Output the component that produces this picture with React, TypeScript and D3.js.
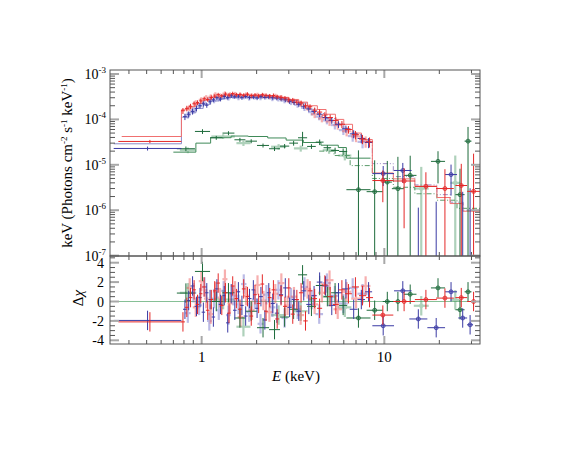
import React from 'react';
import * as d3 from 'd3';

// ---------------- data ----------------
// Dense bins (bin centres in keV); bin edges are geometric mid-points.
const redE = [0.79, 0.83, 0.87, 0.91, 0.95, 0.99, 1.03, 1.08, 1.13, 1.18, 1.23, 1.29, 1.35, 1.41, 1.48, 1.55, 1.62, 1.70, 1.78, 1.87, 1.96, 2.05, 2.15, 2.25, 2.36, 2.47, 2.59, 2.72, 2.86, 3.00, 3.15, 3.32, 3.50, 3.70, 3.92, 4.15, 4.42, 4.72, 5.05, 5.42, 5.85, 6.35, 6.95, 7.6, 8.3];
const redFlux = [1.55e-4, 1.75e-4, 1.95e-4, 2.2e-4, 2.35e-4, 2.55e-4, 2.85e-4, 2.75e-4, 3.05e-4, 3.25e-4, 3.5e-4, 3.3e-4, 3.6e-4, 3.45e-4, 3.7e-4, 3.5e-4, 3.55e-4, 3.4e-4, 3.6e-4, 3.35e-4, 3.45e-4, 3.3e-4, 3.5e-4, 3.4e-4, 3.3e-4, 3.35e-4, 3.15e-4, 3.05e-4, 2.95e-4, 2.7e-4, 2.65e-4, 2.4e-4, 2.3e-4, 2.0e-4, 1.9e-4, 1.6e-4, 1.45e-4, 1.25e-4, 1.1e-4, 9.5e-5, 7.8e-5, 6.0e-5, 4.6e-5, 3.7e-5, 3.2e-5];
const redRelErr = [0.15, 0.14, 0.13, 0.13, 0.12, 0.12, 0.11, 0.11, 0.11, 0.10, 0.10, 0.10, 0.10, 0.10, 0.10, 0.10, 0.10, 0.10, 0.10, 0.10, 0.10, 0.10, 0.10, 0.10, 0.10, 0.11, 0.11, 0.11, 0.11, 0.12, 0.12, 0.12, 0.13, 0.13, 0.13, 0.14, 0.14, 0.15, 0.16, 0.17, 0.18, 0.19, 0.21, 0.23, 0.25];
const redResid = [-2.1, -0.6, 0.4, 1.2, -0.3, 0.8, 1.5, -0.9, 0.2, 1.1, 1.9, -0.4, 0.9, -1.2, 1.6, 0.3, -0.8, 1.3, 0.5, -1.5, 0.7, -0.2, 1.8, -1.0, 0.4, 1.2, -1.8, 0.6, -0.5, 1.4, -1.3, 0.2, 0.9, -2.0, 1.1, 0.3, -0.7, 1.7, 0.5, -0.3, 1.2, 0.8, 1.5, 0.6, 0.4];

const redLightE = [0.86, 0.93, 1.0, 1.06, 1.12, 1.19, 1.26, 1.34, 1.43, 1.52, 1.63, 1.75, 1.88, 2.02, 2.18, 2.35, 2.53, 2.73, 2.95, 3.2, 3.48, 3.8, 4.15, 4.55, 5.0, 5.55, 6.2, 7.0, 7.9];
const redLightFlux = [1.8e-4, 2.3e-4, 2.7e-4, 3.0e-4, 3.15e-4, 3.5e-4, 3.3e-4, 3.7e-4, 3.5e-4, 3.6e-4, 3.4e-4, 3.5e-4, 3.3e-4, 3.45e-4, 3.35e-4, 3.2e-4, 3.25e-4, 3.0e-4, 2.75e-4, 2.5e-4, 2.2e-4, 1.85e-4, 1.3e-4, 1.05e-4, 9.0e-5, 7.5e-5, 5.5e-5, 4.2e-5, 3.3e-5];
const redLightRelErr = [0.16, 0.15, 0.14, 0.14, 0.13, 0.13, 0.13, 0.12, 0.13, 0.12, 0.13, 0.12, 0.13, 0.12, 0.13, 0.13, 0.13, 0.14, 0.14, 0.15, 0.15, 0.16, 0.18, 0.18, 0.2, 0.21, 0.23, 0.25, 0.28];
const redLightResid = [1.4, -0.6, 2.1, 0.3, -1.3, 1.0, 0.4, 2.3, -0.2, 1.1, -1.6, 0.6, -0.9, 1.7, 0.1, -1.1, 0.8, 1.9, -0.4, 0.5, -1.4, 1.3, -0.3, 0.9, 2.2, -0.8, 1.0, 0.3, 1.6];

const blueE = [0.81, 0.85, 0.89, 0.94, 0.98, 1.02, 1.07, 1.11, 1.16, 1.21, 1.27, 1.33, 1.39, 1.45, 1.52, 1.59, 1.66, 1.74, 1.83, 1.92, 2.01, 2.11, 2.22, 2.33, 2.45, 2.58, 2.72, 2.87, 3.03, 3.2, 3.4, 3.62, 3.86, 4.12, 4.42, 4.76, 5.15, 5.6, 6.15, 6.8, 7.5, 8.2];
const blueFlux = [1.15e-4, 1.3e-4, 1.5e-4, 1.75e-4, 2.0e-4, 2.2e-4, 2.05e-4, 2.45e-4, 2.7e-4, 3.0e-4, 2.8e-4, 3.2e-4, 3.05e-4, 3.3e-4, 3.15e-4, 3.25e-4, 3.0e-4, 3.2e-4, 3.05e-4, 3.1e-4, 2.95e-4, 3.2e-4, 3.05e-4, 3.1e-4, 3.0e-4, 2.95e-4, 2.8e-4, 2.7e-4, 2.5e-4, 2.35e-4, 2.15e-4, 1.95e-4, 1.7e-4, 1.5e-4, 1.3e-4, 1.1e-4, 9.5e-5, 7.8e-5, 6.2e-5, 4.8e-5, 3.8e-5, 3.1e-5];
const blueRelErr = [0.16, 0.15, 0.15, 0.14, 0.13, 0.13, 0.12, 0.12, 0.11, 0.11, 0.11, 0.11, 0.10, 0.10, 0.10, 0.10, 0.10, 0.10, 0.10, 0.10, 0.10, 0.10, 0.10, 0.10, 0.10, 0.11, 0.11, 0.11, 0.12, 0.12, 0.12, 0.13, 0.13, 0.14, 0.14, 0.15, 0.16, 0.17, 0.18, 0.2, 0.22, 0.25];
const blueResid = [-0.8, 0.1, 1.6, -0.5, 0.4, -1.1, 0.9, 0.2, -1.6, 1.3, -0.3, 0.6, -2.2, 0.8, -0.9, 1.0, -0.4, -1.5, 0.3, 1.2, -0.7, 0.5, -1.9, 0.9, -0.2, -1.2, 0.7, 1.4, -0.6, 0.2, -1.0, 1.1, -0.3, 0.6, 2.0, 1.6, -0.4, 0.9, 1.3, -0.8, 0.2, 1.0];

const blueLightE = [0.84, 0.9, 0.97, 1.04, 1.1, 1.17, 1.24, 1.32, 1.4, 1.49, 1.59, 1.7, 1.82, 1.95, 2.1, 2.26, 2.44, 2.63, 2.84, 3.08, 3.35, 3.65, 4.0, 4.4, 4.85, 5.35, 5.95, 6.7, 7.6];
const blueLightFlux = [1.25e-4, 1.6e-4, 2.0e-4, 2.3e-4, 2.7e-4, 2.6e-4, 2.9e-4, 3.1e-4, 2.95e-4, 3.2e-4, 3.0e-4, 3.15e-4, 2.95e-4, 3.1e-4, 3.0e-4, 3.15e-4, 2.9e-4, 2.85e-4, 2.6e-4, 2.4e-4, 2.1e-4, 1.8e-4, 1.45e-4, 1.15e-4, 9.5e-5, 7.5e-5, 5.8e-5, 4.3e-5, 3.2e-5];
const blueLightRelErr = [0.17, 0.16, 0.15, 0.14, 0.14, 0.13, 0.13, 0.13, 0.12, 0.12, 0.12, 0.12, 0.12, 0.12, 0.12, 0.12, 0.13, 0.13, 0.13, 0.14, 0.14, 0.15, 0.16, 0.17, 0.18, 0.2, 0.22, 0.25, 0.28];
const blueLightResid = [-1.2, 0.9, -0.4, 1.5, -2.0, 0.3, -0.9, 1.1, -1.4, 0.6, -0.3, 1.8, -1.1, 0.2, -2.3, 0.7, -0.6, 1.2, -1.7, 0.4, -0.8, 1.5, 0.2, -1.3, 1.9, 0.6, -0.2, 1.4, 0.8];

const greenE = [0.82, 1.03, 1.2, 1.41, 1.62, 1.86, 2.17, 2.52, 2.86, 3.18, 3.57, 4.0, 4.44, 4.87, 5.37, 5.95];
const greenFlux = [2.26e-5, 5.43e-5, 3.94e-5, 4.99e-5, 3.56e-5, 3.32e-5, 2.67e-5, 2.26e-5, 2.58e-5, 3.0e-5, 3.94e-5, 2.54e-5, 3.16e-5, 2.38e-5, 2.07e-5, 1.97e-5];
const greenRelErr = [0.12, 0.12, 0.1, 0.1, 0.1, 0.1, 0.1, 0.11, 0.11, 0.12, 0.35, 0.12, 0.14, 0.14, 0.15, 0.16];
const greenResid = [0.87, 3.1, 0.0, 0.9, -1.7, -1.0, -2.7, -2.9, -1.6, -0.8, 2.75, -0.5, 1.65, 0.5, 0.9, -0.4];

// Sparse bins (explicit edges in keV, absolute flux errors)
const redSparseLo = [0.35, 8.6, 11.2, 14.7, 19.2, 24.5, 28.4];
const redSparseHi = [0.775, 11.2, 14.7, 19.4, 24.0, 28.4, 33.4];
const redSparseFlux = [3.27e-5, 4.5e-6, 4.4e-6, 3.35e-6, 3.0e-6, 3.5e-6, 2.6e-6];
const redSparseErr = [2.6e-6, 3e-6, 4e-6, 3.5e-6, 5e-6, 7e-6, 1.5e-5];
const redSparseResid = [-2.1, -1.4, 0.0, 0.2, 0.35, 0.4, 0.0];

const blueSparseLo = [0.33, 8.6, 11.3, 13.7, 17.2, 21.5, 25.4, 28.4];
const blueSparseHi = [0.775, 11.3, 14.1, 17.2, 21.5, 25.0, 28.4, 30.6];
const blueSparseFlux = [2.29e-5, 6.4e-6, 7.5e-6, 4e-8, 4e-8, 6.1e-6, 4e-8, 4e-8];
const blueSparseErr = [2.3e-6, 3e-6, 3.5e-6, 1.1e-6, 1.5e-6, 4e-6, 2.5e-6, 3e-6];
const blueSparseResid = [-1.95, -2.5, 1.1, -1.8, -2.7, 1.0, -1.7, -2.4];

const greenSparseLo = [6.2, 8.0, 9.8, 11.0, 12.8, 18.0, 24.5, 27.5];
const greenSparseHi = [8.4, 9.8, 11.0, 12.8, 15.0, 21.5, 27.5, 30.0];
const greenSparseFlux = [2.83e-6, 2.56e-6, 4.16e-6, 2.98e-6, 5.85e-6, 1.19e-5, 2.2e-6, 3.32e-5];
const greenSparseErr = [1.8e-5, 1.0e-5, 8e-6, 1.2e-5, 1.0e-5, 8e-6, 6e-6, 3.5e-5];
const greenSparseResid = [-1.7, -0.9, 0.0, 0.0, 0.75, 1.4, -0.85, 1.0];

const greenLightLo = [0.76, 1.13, 1.55, 2.4, 3.2, 4.6, 5.6, 14.5, 23.0];
const greenLightHi = [0.93, 1.52, 1.85, 2.9, 3.8, 5.4, 6.6, 17.5, 26.0];
const greenLightFlux = [2.1e-5, 4.2e-5, 3.0e-5, 2.5e-5, 2.3e-5, 2.1e-5, 1.6e-5, 3.0e-6, 4.0e-6];
const greenLightErr = [3e-6, 5e-6, 4e-6, 3.5e-6, 3.5e-6, 3.5e-6, 3.5e-6, 6e-6, 1.2e-5];
const greenLightResid = [0.9, 0.2, -2.6, -1.4, -1.0, 0.5, -0.6, -0.44, 0.17];

// Model step functions (edges in keV, values per bin)
const redModelEdges = [0.365, 0.775, 0.85, 0.93, 1.02, 1.12, 1.25, 1.4, 1.6, 1.85, 2.1, 2.4, 2.7, 3.0, 3.4, 3.8, 4.3, 4.8, 5.4, 6.0, 6.7, 7.5, 8.6, 11.2, 14.7, 19.4, 22.9, 26.9, 33.4];
const redModelVals = [4.2e-5, 1.63e-4, 1.9e-4, 2.25e-4, 2.65e-4, 3.0e-4, 3.3e-4, 3.45e-4, 3.45e-4, 3.4e-4, 3.35e-4, 3.25e-4, 3.05e-4, 2.75e-4, 2.4e-4, 2.0e-4, 1.65e-4, 1.3e-4, 1.0e-4, 7.8e-5, 5.0e-5, 3.6e-5, 6.6e-6, 4.9e-6, 3.35e-6, 1.9e-6, 1.4e-6, 9.5e-7];
const blueModelEdges = [0.33, 0.775, 0.85, 0.93, 1.02, 1.12, 1.25, 1.4, 1.6, 1.85, 2.1, 2.4, 2.7, 3.0, 3.4, 3.8];
const blueModelVals = [2.9e-5, 1.12e-4, 1.4e-4, 1.75e-4, 2.15e-4, 2.55e-4, 2.85e-4, 3.05e-4, 3.1e-4, 3.05e-4, 3.05e-4, 3.0e-4, 2.85e-4, 2.6e-4, 2.3e-4];
const blueDashEdges = [3.8, 4.3, 4.8, 5.4, 6.0, 6.7, 7.5, 8.6, 11.2, 14.7, 19.4, 23.0, 27.0, 33.4];
const blueDashVals = [1.7e-4, 1.35e-4, 1.05e-4, 8.2e-5, 6.2e-5, 4.6e-5, 3.3e-5, 1.06e-5, 5.5e-6, 3.6e-6, 2.2e-6, 1.5e-6, 1.0e-6];
const greenModelEdges = [0.70, 0.93, 1.12, 1.45, 1.8, 2.3, 2.9, 3.6, 4.5, 5.6, 6.2, 8.4];
const greenModelVals = [1.9e-5, 3.0e-5, 3.95e-5, 4.3e-5, 4.2e-5, 3.9e-5, 3.5e-5, 3.1e-5, 2.7e-5, 2.4e-5, 1.4e-5];
const greenDashEdges = [4.4, 5.3, 6.5, 8.6, 11.2, 14.7, 19.4, 25.0, 33.4];
const greenDashVals = [2.0e-5, 1.6e-5, 9.6e-6, 5.0e-6, 3.2e-6, 2.3e-6, 1.66e-6, 1.1e-6];

// Axis ticks
const xMajor = [1, 10];
const xMajorLabels = ['1', '10'];
const yMajorExp = [-3, -4, -5, -6, -7];
const rMajor = [4, 2, 0, -2, -4];

// ---------------- layout ----------------
const W = 581, H = 449;
const X0 = 110, X1 = 480;
const YT0 = 70, YT1 = 256, YR1 = 344;

const x = d3.scaleLog().domain([0.315, 33.4]).range([X0, X1]);
const yTop = d3.scaleLog().domain([9.8e-8, 1.225e-3]).range([YT1, YT0]);
const yRes = d3.scaleLinear().domain([-4.38, 4.69]).range([YR1, YT1]);

const FONT = 'Liberation Serif, Times New Roman, DejaVu Serif, serif';
const AX = '#555';
const MAJ = '#a8a8a8';

type Pt = { lo: number; hi: number; f: number; err: number; r: number };

function edgesFromCenters(c: number[]): number[] {
  const e: number[] = [c[0] / Math.sqrt(c[1] / c[0])];
  for (let i = 1; i < c.length; i++) e.push(Math.sqrt(c[i - 1] * c[i]));
  const n = c.length;
  e.push(c[n - 1] * Math.sqrt(c[n - 1] / c[n - 2]));
  return e;
}
function dense(c: number[], f: number[], rel: number[], r: number[]): Pt[] {
  const e = edgesFromCenters(c);
  return c.map((_, i) => ({ lo: e[i], hi: e[i + 1], f: f[i], err: f[i] * rel[i], r: r[i] }));
}
function sparse(lo: number[], hi: number[], f: number[], err: number[], r: number[]): Pt[] {
  return lo.map((_, i) => ({ lo: lo[i], hi: hi[i], f: f[i], err: err[i], r: r[i] }));
}
function stepPath(edges: number[], vals: number[]): string {
  let d = '';
  vals.forEach((v, i) => {
    const yy = yTop(v);
    d += (i === 0 ? `M${x(edges[0])},${yy}` : `V${yy}`) + `H${x(edges[i + 1])}`;
  });
  return d;
}

const redPts = dense(redE, redFlux, redRelErr, redResid);
const redSp = sparse(redSparseLo, redSparseHi, redSparseFlux, redSparseErr, redSparseResid);
const redLightPts = dense(redLightE, redLightFlux, redLightRelErr, redLightResid);
const bluePts = dense(blueE, blueFlux, blueRelErr, blueResid);
const blueSp = sparse(blueSparseLo, blueSparseHi, blueSparseFlux, blueSparseErr, blueSparseResid);
const blueLightPts = dense(blueLightE, blueLightFlux, blueLightRelErr, blueLightResid);
const greenPts = dense(greenE, greenFlux, greenRelErr, greenResid);
const greenSp = sparse(greenSparseLo, greenSparseHi, greenSparseFlux, greenSparseErr, greenSparseResid);
const greenLightPts = sparse(greenLightLo, greenLightHi, greenLightFlux, greenLightErr, greenLightResid);

function Crosses({ pts, color, w, op, mark, res }: { pts: Pt[]; color: string; w: number; op: number; mark?: boolean; res?: boolean }) {
  return (
    <g stroke={color} strokeWidth={w} opacity={op} fill="none">
      {pts.map((p, i) => {
        const xc = x(Math.sqrt(p.lo * p.hi));
        let yc: number, yl: number, yu: number;
        if (res) {
          yc = yRes(p.r); yl = yRes(p.r - 1); yu = yRes(p.r + 1);
        } else {
          yc = yTop(Math.max(p.f, 1e-10));
          yl = yTop(Math.max(p.f - p.err, 1e-10));
          yu = yTop(p.f + p.err);
        }
        return (
          <g key={i}>
            <line x1={x(p.lo)} x2={x(p.hi)} y1={yc} y2={yc} />
            <line x1={xc} x2={xc} y1={yl} y2={yu} />
            {mark && p.lo > 5 ? <circle cx={xc} cy={yc} r={2} fill={color} fillOpacity={0.35} strokeWidth={0.8} /> : null}
          </g>
        );
      })}
    </g>
  );
}

function xMinorTicks() {
  const minors: number[] = [];
  [0.1, 1, 10].forEach((d) => { for (let k = 2; k <= 9; k++) { const v = k * d; if (v > 0.315 && v < 33.4) minors.push(v); } });
  return minors;
}

function Frame({ top, bottom, yMinor, yMajorPos }: { top: number; bottom: number; yMinor: number[]; yMajorPos: number[] }) {
  const minors = xMinorTicks();
  return (
    <g>
      {minors.map((v, i) => (
        <g key={'xm' + i} stroke={AX} strokeWidth={1}>
          <line x1={x(v)} x2={x(v)} y1={bottom} y2={bottom - 4} />
          <line x1={x(v)} x2={x(v)} y1={top} y2={top + 4} />
        </g>
      ))}
      {xMajor.map((v, i) => (
        <g key={'xM' + i} stroke={MAJ} strokeWidth={2}>
          <line x1={x(v)} x2={x(v)} y1={bottom} y2={bottom - 8} />
          <line x1={x(v)} x2={x(v)} y1={top} y2={top + 8} />
        </g>
      ))}
      {yMinor.map((yy, i) => (
        <g key={'ym' + i} stroke={AX} strokeWidth={1}>
          <line x1={X0} x2={X0 + 5} y1={yy} y2={yy} />
          <line x1={X1} x2={X1 - 5} y1={yy} y2={yy} />
        </g>
      ))}
      {yMajorPos.map((yy, i) => (
        <g key={'yM' + i} stroke={MAJ} strokeWidth={2}>
          <line x1={X0} x2={X0 + 9} y1={yy} y2={yy} />
          <line x1={X1} x2={X1 - 9} y1={yy} y2={yy} />
        </g>
      ))}
      <rect x={X0} y={top} width={X1 - X0} height={bottom - top} fill="none" stroke={AX} strokeWidth={1} />
    </g>
  );
}

export default function App() {
  const topMinor: number[] = [];
  [-8, -7, -6, -5, -4, -3].forEach((e) => {
    for (let k = 2; k <= 9; k++) {
      const v = k * Math.pow(10, e);
      if (v > 9.8e-8 && v < 1.225e-3) topMinor.push(yTop(v));
    }
  });
  const topMajor = yMajorExp.map((e) => yTop(Math.pow(10, e)));
  const resMinor: number[] = [];
  for (let v = -4; v <= 4.5; v += 0.5) if (v % 2 !== 0) resMinor.push(yRes(v));
  const resMajor = rMajor.map((v) => yRes(v));
  const ts = { fontFamily: FONT };

  return (
    <svg width={W} height={H} style={{ position: 'absolute', left: 0, top: 0, background: '#fff' }}>
      <defs>
        <clipPath id="ctop"><rect x={X0} y={YT0} width={X1 - X0} height={YT1 - YT0} /></clipPath>
        <clipPath id="cres"><rect x={X0} y={YT1} width={X1 - X0} height={YR1 - YT1} /></clipPath>
      </defs>

      {/* ---------- top panel ---------- */}
      <g clipPath="url(#ctop)">
        <path d={stepPath(greenModelEdges, greenModelVals)} stroke="#3f8a58" strokeWidth={1} fill="none" />
        <path d={stepPath(greenDashEdges, greenDashVals)} stroke="#5a9a6a" strokeWidth={1} fill="none" strokeDasharray="5,2,1,2" />
        <path d={stepPath(blueModelEdges, blueModelVals)} stroke="#8a8ac8" strokeWidth={1} fill="none" />
        <path d={stepPath(blueDashEdges, blueDashVals)} stroke="#9a8ac0" strokeWidth={1} fill="none" strokeDasharray="5,2,1,2,1,2" />
        <path d={stepPath(redModelEdges, redModelVals)} stroke="#f07070" strokeWidth={1} fill="none" />
        <Crosses pts={greenLightPts} color="#4e9a68" w={2.2} op={0.45} mark />
        <Crosses pts={blueLightPts} color="#6a6ac8" w={2.2} op={0.45} />
        <Crosses pts={redLightPts} color="#ee5050" w={2.2} op={0.45} />
        <Crosses pts={greenPts} color="#1d6b3b" w={1} op={1} />
        <Crosses pts={greenSp} color="#1d6b3b" w={1} op={1} mark />
        <Crosses pts={bluePts} color="#3a3aa4" w={1} op={1} />
        <Crosses pts={blueSp} color="#3a3aa4" w={1} op={1} mark />
        <Crosses pts={redPts} color="#e42828" w={1} op={1} />
        <Crosses pts={redSp} color="#e42828" w={1} op={1} mark />
      </g>

      {/* ---------- residual panel ---------- */}
      <g clipPath="url(#cres)">
        <line x1={X0} x2={X1} y1={yRes(0)} y2={yRes(0)} stroke="#86c096" strokeWidth={1} />
        <Crosses pts={greenLightPts} color="#4e9a68" w={2.2} op={0.45} res mark />
        <Crosses pts={blueLightPts} color="#6a6ac8" w={2.2} op={0.45} res />
        <Crosses pts={redLightPts} color="#ee5050" w={2.2} op={0.45} res />
        <Crosses pts={greenPts} color="#1d6b3b" w={1} op={1} res />
        <Crosses pts={greenSp} color="#1d6b3b" w={1} op={1} res mark />
        <Crosses pts={bluePts} color="#3a3aa4" w={1} op={1} res />
        <Crosses pts={blueSp} color="#3a3aa4" w={1} op={1} res mark />
        <Crosses pts={redPts} color="#e42828" w={1} op={1} res />
        <Crosses pts={redSp} color="#e42828" w={1} op={1} res mark />
      </g>

      <Frame top={YT0} bottom={YT1} yMinor={topMinor} yMajorPos={topMajor} />
      <Frame top={YT1} bottom={YR1} yMinor={resMinor} yMajorPos={resMajor} />

      {/* ---------- labels ---------- */}
      <g fontSize={14} fill="#000" style={ts}>
        {yMajorExp.map((e, i) => (
          <text key={'yl' + i} x={106} y={yTop(Math.pow(10, e)) + 5} textAnchor="end" style={ts}>
            10<tspan dy={-6} fontSize={9}>{String(e)}</tspan>
          </text>
        ))}
        {rMajor.map((v, i) => (
          <text key={'rl' + i} x={104} y={yRes(v) + 5} textAnchor="end" style={ts}>{String(v)}</text>
        ))}
        {xMajor.map((v, i) => (
          <text key={'xl' + i} x={x(v)} y={362} textAnchor="middle" fontSize={15} style={ts}>{xMajorLabels[i]}</text>
        ))}
        <text x={296} y={381} textAnchor="middle" fontSize={15} style={ts}><tspan fontStyle="italic">E</tspan> (keV)</text>
        <text transform="translate(72,163) rotate(-90)" textAnchor="middle" fontSize={15} style={ts}>
          keV (Photons cm<tspan dy={-5} fontSize={9}>-2</tspan><tspan dy={5}> s</tspan><tspan dy={-5} fontSize={9}>-1</tspan><tspan dy={5}> keV</tspan><tspan dy={-5} fontSize={9}>-1</tspan><tspan dy={5}>)</tspan>
        </text>
        <text transform="translate(83,298) rotate(-90)" textAnchor="middle" fontSize={15} style={ts}>Δ<tspan fontStyle="italic">χ</tspan></text>
      </g>
    </svg>
  );
}
